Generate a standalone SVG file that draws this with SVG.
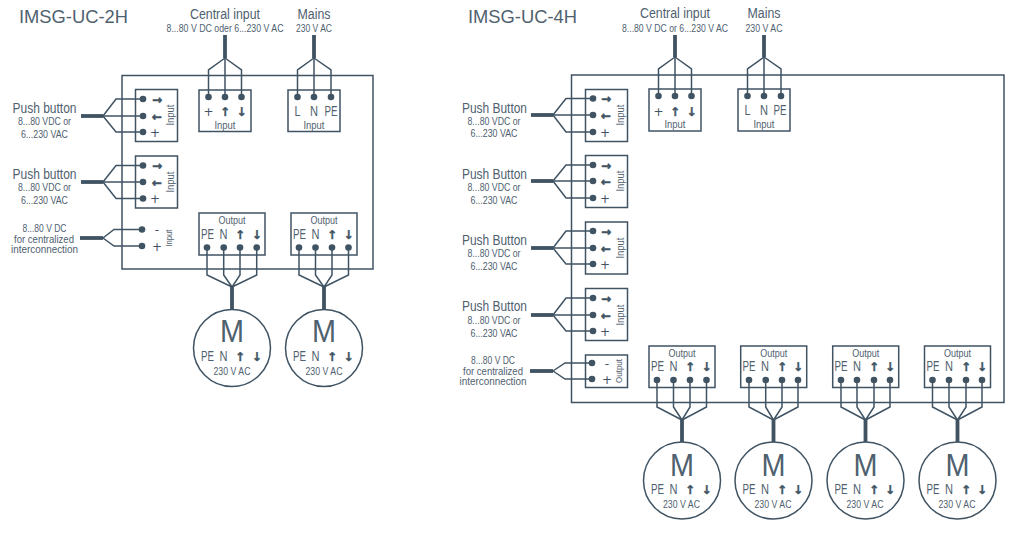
<svg xmlns="http://www.w3.org/2000/svg" width="1015" height="534" viewBox="0 0 1015 534">
<style>
text{font-family:"Liberation Sans",Arial,sans-serif;fill:#4f616f;text-anchor:middle}
.b{fill:#fff;stroke:#3f5363;stroke-width:1.5}
.m{fill:none;stroke:#3f5363;stroke-width:1.5}
.w{fill:none;stroke:#3f5363;stroke-width:1.5;stroke-linejoin:miter}
.d{marker-end:url(#dot)}
.s{marker-start:url(#dot)}
.t{fill:none;stroke:#3f5363;stroke-width:3.8}
.h{font-size:19px;text-anchor:start}
.l{font-size:14px}
.x{font-size:11px}
.k{font-size:14px}
.z{font-size:9px}
.a{font-family:"DejaVu Sans",sans-serif;font-weight:bold;font-size:12px;fill:#3f5363;stroke:#3f5363;stroke-width:.4}
.p{font-family:"DejaVu Sans",sans-serif;font-size:12px;fill:#3f5363}
.M{font-size:32px}
</style>
<defs>
<marker id="dot" markerUnits="userSpaceOnUse" markerWidth="8" markerHeight="8" refX="4" refY="4"><circle cx="4" cy="4" r="3.3" fill="#3f5363"/></marker>
</defs>
<rect width="1015" height="534" fill="#fff"/>

<g id="device-2h">
<text class="h" x="19" y="23" textLength="109" lengthAdjust="spacingAndGlyphs">IMSG-UC-2H</text>
<rect class="m" x="122" y="75.500" width="251" height="193.500"/>
</g>
<g id="device-4h">
<text class="h" x="468" y="23" textLength="109" lengthAdjust="spacingAndGlyphs">IMSG-UC-4H</text>
<rect class="m" x="571.500" y="75" width="432.500" height="327.500"/>
</g>

<g id="l-central-label">
<text class="l" x="225" y="19" textLength="70" lengthAdjust="spacingAndGlyphs">Central input</text>
<text class="x" x="225" y="32" textLength="117" lengthAdjust="spacingAndGlyphs">8...80 V DC oder 6...230 V AC</text>
</g>
<g id="l-mains-label">
<text class="l" x="314" y="19" textLength="33" lengthAdjust="spacingAndGlyphs">Mains</text>
<text class="x" x="314" y="32" textLength="36" lengthAdjust="spacingAndGlyphs">230 V AC</text>
</g>
<g id="l-pb1-label">
<text class="l" x="44.500" y="113" textLength="64" lengthAdjust="spacingAndGlyphs">Push button</text>
<text class="x" x="44.500" y="125" textLength="53" lengthAdjust="spacingAndGlyphs">8...80 VDC or</text>
<text class="x" x="44.500" y="138" textLength="47" lengthAdjust="spacingAndGlyphs">6...230 VAC</text>
</g>
<g id="l-pb2-label">
<text class="l" x="44.500" y="179" textLength="64" lengthAdjust="spacingAndGlyphs">Push button</text>
<text class="x" x="44.500" y="191" textLength="53" lengthAdjust="spacingAndGlyphs">8...80 VDC or</text>
<text class="x" x="44.500" y="204" textLength="47" lengthAdjust="spacingAndGlyphs">6...230 VAC</text>
</g>
<g id="l-dc-label">
<text class="x" x="44.500" y="232" textLength="44" lengthAdjust="spacingAndGlyphs">8...80 V DC</text>
<text class="x" x="44" y="243" textLength="60" lengthAdjust="spacingAndGlyphs">for centralized</text>
<text class="x" x="44.500" y="253" textLength="67" lengthAdjust="spacingAndGlyphs">interconnection</text>
</g>

<g id="l-pb1">
<rect class="b" x="135.500" y="89.500" width="42" height="52"/>
<text class="a" x="157" y="103.500">→</text><text class="a" x="157" y="120.500">←</text><text class="p" x="155" y="137">+</text>
<text class="x" transform="translate(174,115) rotate(-90)" textLength="21" lengthAdjust="spacingAndGlyphs">Input</text>
</g>
<g id="l-pb2">
<rect class="b" x="135.500" y="156" width="42" height="52"/>
<text class="a" x="157" y="170">→</text><text class="a" x="157" y="186.500">←</text><text class="p" x="155" y="203">+</text>
<text class="x" transform="translate(174,182) rotate(-90)" textLength="21" lengthAdjust="spacingAndGlyphs">Input</text>
</g>
<g id="l-dc">
<text class="p" x="157" y="234">-</text><text class="p" x="157" y="251">+</text>
<text class="z" transform="translate(172,238) rotate(-90)" textLength="17" lengthAdjust="spacingAndGlyphs">Input</text>
</g>
<g id="l-central">
<rect class="b" x="199" y="90" width="52" height="41.500"/>
<text class="p" x="208.500" y="115.500">+</text><text class="a" x="225" y="115.500">↑</text><text class="a" x="241.500" y="115.500">↓</text>
<text class="x" x="225" y="129" textLength="21" lengthAdjust="spacingAndGlyphs">Input</text>
</g>
<g id="l-mains">
<rect class="b" x="288" y="90" width="52" height="41.500"/>
<text class="k" x="297.500" y="116" textLength="6" lengthAdjust="spacingAndGlyphs">L</text><text class="k" x="314" y="116" textLength="8" lengthAdjust="spacingAndGlyphs">N</text><text class="k" x="331" y="116" textLength="13" lengthAdjust="spacingAndGlyphs">PE</text>
<text class="x" x="314" y="129" textLength="21" lengthAdjust="spacingAndGlyphs">Input</text>
</g>
<g id="l-out1">
<rect class="b" x="199" y="213" width="66" height="42"/>
<text class="x" x="232" y="224" textLength="27" lengthAdjust="spacingAndGlyphs">Output</text>
<text class="k" x="207.500" y="239" textLength="13" lengthAdjust="spacingAndGlyphs">PE</text><text class="k" x="223.500" y="239" textLength="8" lengthAdjust="spacingAndGlyphs">N</text><text class="a" x="240" y="239">↑</text><text class="a" x="256.700" y="239">↓</text>
</g>
<g id="l-out2">
<rect class="b" x="291" y="213" width="66" height="42"/>
<text class="x" x="324" y="224" textLength="27" lengthAdjust="spacingAndGlyphs">Output</text>
<text class="k" x="299.500" y="239" textLength="13" lengthAdjust="spacingAndGlyphs">PE</text><text class="k" x="315.500" y="239" textLength="8" lengthAdjust="spacingAndGlyphs">N</text><text class="a" x="332" y="239">↑</text><text class="a" x="348.500" y="239">↓</text>
</g>
<g id="l-motor1">
<circle class="m" cx="232" cy="348" r="38.500"/>
<text class="M" x="232" y="342" textLength="24" lengthAdjust="spacingAndGlyphs">M</text>
<text class="k" x="207.500" y="361" textLength="13" lengthAdjust="spacingAndGlyphs">PE</text><text class="k" x="223.500" y="361" textLength="8" lengthAdjust="spacingAndGlyphs">N</text><text class="a" x="240" y="361">↑</text><text class="a" x="256.700" y="361">↓</text>
<text class="x" x="232" y="375" textLength="37" lengthAdjust="spacingAndGlyphs">230 V AC</text>
</g>
<g id="l-motor2">
<circle class="m" cx="324" cy="348" r="38.500"/>
<text class="M" x="324" y="342" textLength="24" lengthAdjust="spacingAndGlyphs">M</text>
<text class="k" x="299.500" y="361" textLength="13" lengthAdjust="spacingAndGlyphs">PE</text><text class="k" x="315.500" y="361" textLength="8" lengthAdjust="spacingAndGlyphs">N</text><text class="a" x="332" y="361">↑</text><text class="a" x="348.500" y="361">↓</text>
<text class="x" x="324" y="375" textLength="37" lengthAdjust="spacingAndGlyphs">230 V AC</text>
</g>

<g id="r-central-label">
<text class="l" x="675" y="18" textLength="70" lengthAdjust="spacingAndGlyphs">Central input</text>
<text class="x" x="675" y="32" textLength="106" lengthAdjust="spacingAndGlyphs">8...80 V DC or 6...230 V AC</text>
</g>
<g id="r-mains-label">
<text class="l" x="764" y="18" textLength="33" lengthAdjust="spacingAndGlyphs">Mains</text>
<text class="x" x="764" y="32" textLength="37" lengthAdjust="spacingAndGlyphs">230 V AC</text>
</g>
<g id="r-pb1-label">
<text class="l" x="494.500" y="113" textLength="65" lengthAdjust="spacingAndGlyphs">Push Button</text>
<text class="x" x="494" y="125" textLength="53" lengthAdjust="spacingAndGlyphs">8...80 VDC or</text>
<text class="x" x="494" y="137" textLength="47" lengthAdjust="spacingAndGlyphs">6...230 VAC</text>
</g>
<g id="r-pb2-label">
<text class="l" x="494.500" y="179" textLength="65" lengthAdjust="spacingAndGlyphs">Push Button</text>
<text class="x" x="494" y="191" textLength="53" lengthAdjust="spacingAndGlyphs">8...80 VDC or</text>
<text class="x" x="494" y="204" textLength="47" lengthAdjust="spacingAndGlyphs">6...230 VAC</text>
</g>
<g id="r-pb3-label">
<text class="l" x="494.500" y="245" textLength="65" lengthAdjust="spacingAndGlyphs">Push Button</text>
<text class="x" x="494" y="257" textLength="53" lengthAdjust="spacingAndGlyphs">8...80 VDC or</text>
<text class="x" x="494" y="270" textLength="47" lengthAdjust="spacingAndGlyphs">6...230 VAC</text>
</g>
<g id="r-pb4-label">
<text class="l" x="494.500" y="311" textLength="65" lengthAdjust="spacingAndGlyphs">Push Button</text>
<text class="x" x="494" y="324" textLength="53" lengthAdjust="spacingAndGlyphs">8...80 VDC or</text>
<text class="x" x="494" y="337" textLength="47" lengthAdjust="spacingAndGlyphs">6...230 VAC</text>
</g>
<g id="r-dc-label">
<text class="x" x="493" y="364" textLength="44" lengthAdjust="spacingAndGlyphs">8...80 V DC</text>
<text class="x" x="493" y="375" textLength="60" lengthAdjust="spacingAndGlyphs">for centralized</text>
<text class="x" x="493" y="385" textLength="67" lengthAdjust="spacingAndGlyphs">interconnection</text>
</g>

<g id="r-pb1">
<rect class="b" x="585.500" y="89.500" width="42" height="52"/>
<text class="a" x="606" y="103">→</text><text class="a" x="606" y="120">←</text><text class="p" x="605" y="137">+</text>
<text class="x" transform="translate(623.500,115) rotate(-90)" textLength="21" lengthAdjust="spacingAndGlyphs">Input</text>
</g>
<g id="r-pb2">
<rect class="b" x="585.500" y="155.500" width="42" height="52"/>
<text class="a" x="606" y="169.500">→</text><text class="a" x="606" y="185.500">←</text><text class="p" x="605" y="203">+</text>
<text class="x" transform="translate(623.500,181) rotate(-90)" textLength="21" lengthAdjust="spacingAndGlyphs">Input</text>
</g>
<g id="r-pb3">
<rect class="b" x="585.500" y="222" width="42" height="52"/>
<text class="a" x="606" y="235.500">→</text><text class="a" x="606" y="252.500">←</text><text class="p" x="605" y="269">+</text>
<text class="x" transform="translate(623.500,248) rotate(-90)" textLength="21" lengthAdjust="spacingAndGlyphs">Input</text>
</g>
<g id="r-pb4">
<rect class="b" x="585.500" y="288.500" width="42" height="52"/>
<text class="a" x="606" y="302.500">→</text><text class="a" x="606" y="319.500">←</text><text class="p" x="605" y="336">+</text>
<text class="x" transform="translate(623.500,315) rotate(-90)" textLength="21" lengthAdjust="spacingAndGlyphs">Input</text>
</g>
<g id="r-dc">
<rect class="b" x="585.500" y="355" width="42" height="32.500"/>
<text class="p" x="607" y="368">-</text><text class="p" x="607" y="384">+</text>
<text class="z" transform="translate(622,371) rotate(-90)" textLength="24" lengthAdjust="spacingAndGlyphs">Output</text>
</g>
<g id="r-central">
<rect class="b" x="649" y="89" width="52" height="42"/>
<text class="p" x="658.500" y="115.500">+</text><text class="a" x="675" y="115.500">↑</text><text class="a" x="691.500" y="115.500">↓</text>
<text class="x" x="675" y="128" textLength="21" lengthAdjust="spacingAndGlyphs">Input</text>
</g>
<g id="r-mains">
<rect class="b" x="738" y="89" width="52" height="42"/>
<text class="k" x="747.500" y="115" textLength="6" lengthAdjust="spacingAndGlyphs">L</text><text class="k" x="764" y="115" textLength="8" lengthAdjust="spacingAndGlyphs">N</text><text class="k" x="780" y="115" textLength="13" lengthAdjust="spacingAndGlyphs">PE</text>
<text class="x" x="764" y="128" textLength="21" lengthAdjust="spacingAndGlyphs">Input</text>
</g>

<g id="r-out1">
<rect class="b" x="649" y="346" width="66" height="41.500"/>
<text class="x" x="682" y="357" textLength="27" lengthAdjust="spacingAndGlyphs">Output</text>
<text class="k" x="657.500" y="371" textLength="13" lengthAdjust="spacingAndGlyphs">PE</text><text class="k" x="673.500" y="371" textLength="8" lengthAdjust="spacingAndGlyphs">N</text><text class="a" x="690" y="371">↑</text><text class="a" x="706.500" y="371">↓</text>
</g>
<g id="r-out2">
<rect class="b" x="740.700" y="346" width="66" height="41.500"/>
<text class="x" x="773.700" y="357" textLength="27" lengthAdjust="spacingAndGlyphs">Output</text>
<text class="k" x="749" y="371" textLength="13" lengthAdjust="spacingAndGlyphs">PE</text><text class="k" x="765" y="371" textLength="8" lengthAdjust="spacingAndGlyphs">N</text><text class="a" x="782" y="371">↑</text><text class="a" x="798" y="371">↓</text>
</g>
<g id="r-out3">
<rect class="b" x="832.700" y="346" width="66" height="41.500"/>
<text class="x" x="865.700" y="357" textLength="27" lengthAdjust="spacingAndGlyphs">Output</text>
<text class="k" x="841" y="371" textLength="13" lengthAdjust="spacingAndGlyphs">PE</text><text class="k" x="857" y="371" textLength="8" lengthAdjust="spacingAndGlyphs">N</text><text class="a" x="874" y="371">↑</text><text class="a" x="890" y="371">↓</text>
</g>
<g id="r-out4">
<rect class="b" x="924.500" y="346" width="66" height="41.500"/>
<text class="x" x="957.500" y="357" textLength="27" lengthAdjust="spacingAndGlyphs">Output</text>
<text class="k" x="933" y="371" textLength="13" lengthAdjust="spacingAndGlyphs">PE</text><text class="k" x="949" y="371" textLength="8" lengthAdjust="spacingAndGlyphs">N</text><text class="a" x="966" y="371">↑</text><text class="a" x="982" y="371">↓</text>
</g>
<g id="r-motor1">
<circle class="m" cx="682" cy="480.500" r="38.500"/>
<text class="M" x="682" y="476" textLength="24" lengthAdjust="spacingAndGlyphs">M</text>
<text class="k" x="657.500" y="494" textLength="13" lengthAdjust="spacingAndGlyphs">PE</text><text class="k" x="673.500" y="494" textLength="8" lengthAdjust="spacingAndGlyphs">N</text><text class="a" x="690" y="494">↑</text><text class="a" x="706.500" y="494">↓</text>
<text class="x" x="681.500" y="508" textLength="37" lengthAdjust="spacingAndGlyphs">230 V AC</text>
</g>
<g id="r-motor2">
<circle class="m" cx="773.500" cy="480.500" r="38.500"/>
<text class="M" x="773.500" y="476" textLength="24" lengthAdjust="spacingAndGlyphs">M</text>
<text class="k" x="749" y="494" textLength="13" lengthAdjust="spacingAndGlyphs">PE</text><text class="k" x="765" y="494" textLength="8" lengthAdjust="spacingAndGlyphs">N</text><text class="a" x="782" y="494">↑</text><text class="a" x="798" y="494">↓</text>
<text class="x" x="773" y="508" textLength="37" lengthAdjust="spacingAndGlyphs">230 V AC</text>
</g>
<g id="r-motor3">
<circle class="m" cx="865.500" cy="480.500" r="38.500"/>
<text class="M" x="865.500" y="476" textLength="24" lengthAdjust="spacingAndGlyphs">M</text>
<text class="k" x="841" y="494" textLength="13" lengthAdjust="spacingAndGlyphs">PE</text><text class="k" x="857" y="494" textLength="8" lengthAdjust="spacingAndGlyphs">N</text><text class="a" x="874" y="494">↑</text><text class="a" x="890" y="494">↓</text>
<text class="x" x="865" y="508" textLength="37" lengthAdjust="spacingAndGlyphs">230 V AC</text>
</g>
<g id="r-motor4">
<circle class="m" cx="957.500" cy="480.500" r="38.500"/>
<text class="M" x="957.500" y="476" textLength="24" lengthAdjust="spacingAndGlyphs">M</text>
<text class="k" x="933" y="494" textLength="13" lengthAdjust="spacingAndGlyphs">PE</text><text class="k" x="949" y="494" textLength="8" lengthAdjust="spacingAndGlyphs">N</text><text class="a" x="966" y="494">↑</text><text class="a" x="982" y="494">↓</text>
<text class="x" x="957" y="508" textLength="37" lengthAdjust="spacingAndGlyphs">230 V AC</text>
</g>

<g id="connectors">
<path class="t" d="M81 116H103"/><path class="w d" d="M103 116L116 99H143"/><path class="w d" d="M103 116H143"/><path class="w d" d="M103 116L116 132H143"/>
<path class="t" d="M81 182H103"/><path class="w d" d="M103 182L116 165.500H143"/><path class="w d" d="M103 182H143"/><path class="w d" d="M103 182L116 198.500H143"/>
<path class="t" d="M80 238H103"/><path class="w d" d="M103 238L114 229.500H142"/><path class="w d" d="M103 238L114 246H142"/>
<path class="t" d="M225 35V58"/><path class="w d" d="M225 58L208.500 70V97"/><path class="w d" d="M225 58V97"/><path class="w d" d="M225 58L241.500 70V97"/>
<path class="t" d="M314 35V58"/><path class="w d" d="M314 58L297.500 70V97"/><path class="w d" d="M314 58V97"/><path class="w d" d="M314 58L331 70V97"/>
<path class="w s" d="M207 247.500V275L232 287"/><path class="w s" d="M223.700 247.500V275L232 287"/><path class="w s" d="M240 247.500V275L232 287"/><path class="w s" d="M256.700 247.500V275L232 287"/><path class="t" d="M232 287V310"/>
<path class="w s" d="M299 247.500V275L324 287"/><path class="w s" d="M315.500 247.500V275L324 287"/><path class="w s" d="M332 247.500V275L324 287"/><path class="w s" d="M348.500 247.500V275L324 287"/><path class="t" d="M324 287V310"/>

<path class="t" d="M531 115H553"/><path class="w d" d="M553 115L566 98.500H593"/><path class="w d" d="M553 115H593"/><path class="w d" d="M553 115L566 132H593"/>
<path class="t" d="M531 181H553"/><path class="w d" d="M553 181L566 165H593"/><path class="w d" d="M553 181H593"/><path class="w d" d="M553 181L566 198H593"/>
<path class="t" d="M531 248H553"/><path class="w d" d="M553 248L566 231H593"/><path class="w d" d="M553 248H593"/><path class="w d" d="M553 248L566 264H593"/>
<path class="t" d="M531 315H553"/><path class="w d" d="M553 315L566 298H593"/><path class="w d" d="M553 315H593"/><path class="w d" d="M553 315L566 331H593"/>
<path class="t" d="M530 371H553"/><path class="w d" d="M553 371L565 363H592"/><path class="w d" d="M553 371L565 379H592"/>
<path class="t" d="M675 35V57"/><path class="w d" d="M675 57L658.500 69V96"/><path class="w d" d="M675 57V96"/><path class="w d" d="M675 57L691.500 69V96"/>
<path class="t" d="M764 35V57"/><path class="w d" d="M764 57L747.500 69V96"/><path class="w d" d="M764 57V96"/><path class="w d" d="M764 57L781 69V96"/>
<path class="w s" d="M657 380V407L682 420"/><path class="w s" d="M673.500 380V407L682 420"/><path class="w s" d="M690 380V407L682 420"/><path class="w s" d="M706.500 380V407L682 420"/><path class="t" d="M682 420V442"/>
<path class="w s" d="M749 380V407L773.500 420"/><path class="w s" d="M765.700 380V407L773.500 420"/><path class="w s" d="M782 380V407L773.500 420"/><path class="w s" d="M798 380V407L773.500 420"/><path class="t" d="M773.500 420V442"/>
<path class="w s" d="M841 380V407L865.500 420"/><path class="w s" d="M857 380V407L865.500 420"/><path class="w s" d="M874 380V407L865.500 420"/><path class="w s" d="M890 380V407L865.500 420"/><path class="t" d="M865.500 420V442"/>
<path class="w s" d="M932.500 380V407L957.500 420"/><path class="w s" d="M949 380V407L957.500 420"/><path class="w s" d="M966 380V407L957.500 420"/><path class="w s" d="M982 380V407L957.500 420"/><path class="t" d="M957.500 420V442"/>
</g>
</svg>
